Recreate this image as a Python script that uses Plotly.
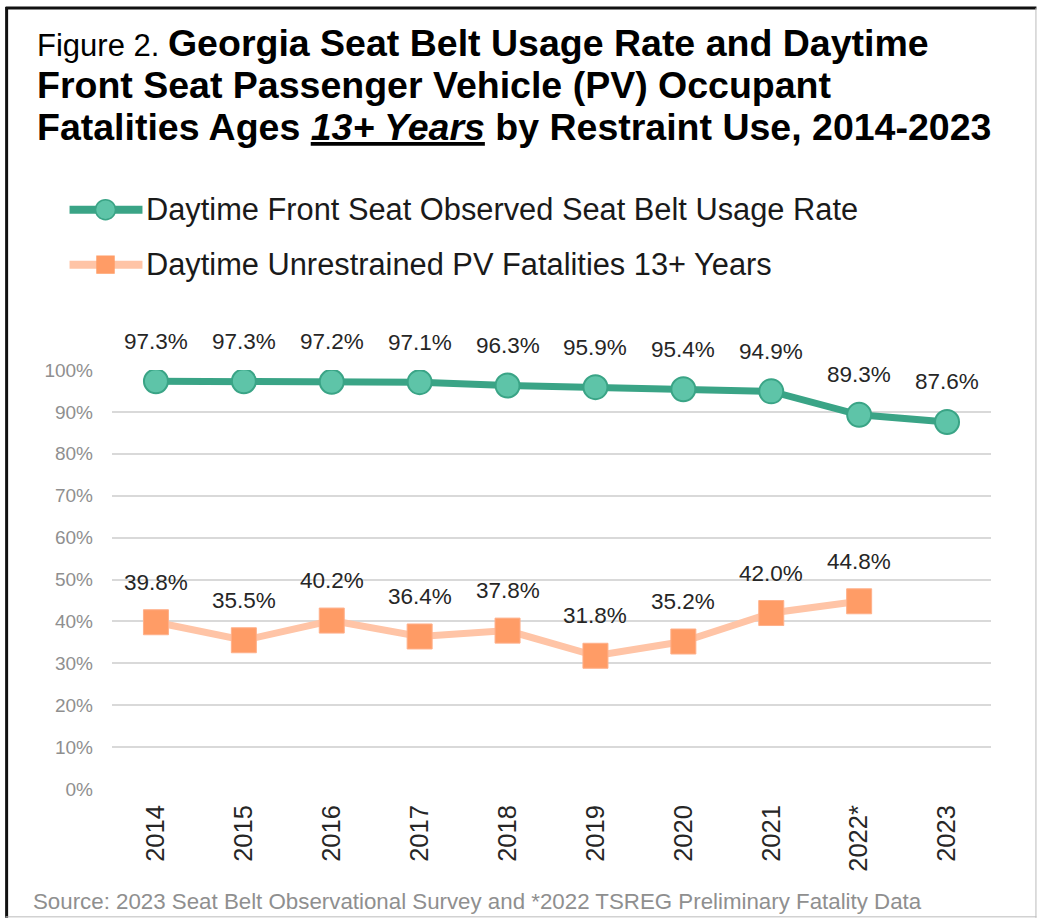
import plotly.graph_objects as go

years = ["2014", "2015", "2016", "2017", "2018", "2019", "2020", "2021", "2022*", "2023"]
usage_rate = [97.3, 97.3, 97.2, 97.1, 96.3, 95.9, 95.4, 94.9, 89.3, 87.6]
unrestrained = [39.8, 35.5, 40.2, 36.4, 37.8, 31.8, 35.2, 42.0, 44.8, None]
y_ticks = [0, 10, 20, 30, 40, 50, 60, 70, 80, 90, 100]
name_usage = "Daytime Front Seat Observed Seat Belt Usage Rate"
name_unres = "Daytime Unrestrained PV Fatalities 13+ Years"

GREEN_LINE = "#3AA486"
GREEN_FILL = "#5EC4A8"
ORANGE_LINE = "#FFC4A6"
ORANGE_FILL = "#FF9C66"
FONT = "Liberation Sans, Arial, sans-serif"

W, H = 1038, 919
L, R, T, B = 111.5, 991.5, 369.5, 789

def px(x):
    return (x - L) / (R - L)

def py(y):
    return (B - y) / (B - T)

fig = go.Figure()
fig.add_trace(go.Scatter(
    x=years, y=usage_rate, name=name_usage, mode="lines+markers",
    line=dict(color=GREEN_LINE, width=7),
    marker=dict(symbol="circle", size=24, color=GREEN_FILL, line=dict(color=GREEN_LINE, width=2)),
    showlegend=False,
))
fig.add_trace(go.Scatter(
    x=years, y=unrestrained, name=name_unres, mode="lines+markers",
    line=dict(color=ORANGE_LINE, width=7),
    marker=dict(symbol="square", size=25, color=ORANGE_FILL, line=dict(color="#FFB08A", width=1)),
    showlegend=False,
))

# data labels
for series in (usage_rate, unrestrained):
    for i, v in enumerate(series):
        if v is None:
            continue
        fig.add_annotation(x=i, y=v, xref="x", yref="y", text=f"{v:.1f}%", showarrow=False, yshift=40,
                           font=dict(family=FONT, size=22.5, color="#262626"))

# title (three lines)
title_lines = [
    "<span style='font-size:31px'>Figure 2. </span><b>Georgia Seat Belt Usage Rate and Daytime</b>",
    "<b>Front Seat Passenger Vehicle (PV) Occupant</b>",
    "<b>Fatalities Ages <u><i>13+ Years</i></u> by Restraint Use, 2014-2023</b>",
]
for line, yc in zip(title_lines, [42, 84, 126]):
    fig.add_annotation(xref="paper", yref="paper", x=px(34), y=py(yc), xanchor="left", yanchor="middle",
                       text=line, showarrow=False, font=dict(family=FONT, size=37.5, color="#000000"))

# legend (drawn manually to match the long symbol samples)
legend_items = [(name_usage, GREEN_LINE, GREEN_FILL, "circle", 209),
                (name_unres, ORANGE_LINE, ORANGE_FILL, "rect", 264)]
for name, lc, fc, shp, yc in legend_items:
    fig.add_shape(type="line", xref="paper", yref="paper", x0=px(69), x1=px(142), y0=py(yc), y1=py(yc),
                  line=dict(color=lc, width=8))
    half = 10 if shp == "circle" else 8.5
    fig.add_shape(type=shp, xref="paper", yref="paper", x0=px(105 - half), x1=px(105 + half),
                  y0=py(yc - half), y1=py(yc + half), fillcolor=fc,
                  line=dict(color=lc if shp == "circle" else fc, width=1.5))
    fig.add_annotation(xref="paper", yref="paper", x=px(144), y=py(yc), xanchor="left", yanchor="middle",
                       text=name, showarrow=False, font=dict(family=FONT, size=30.8, color="#1a1a1a"))

fig.update_layout(
    width=W, height=H,
    margin=dict(l=L, r=W - R, t=T, b=H - B),
    paper_bgcolor="white", plot_bgcolor="white",
    font=dict(family=FONT, color="#262626"),
    showlegend=False,
    xaxis=dict(type="category", tickangle=-90, showgrid=False, showline=False, ticks="",
               tickfont=dict(family=FONT, size=25.5, color="#262626"), range=[-0.5, 9.5],
               ticklabelstandoff=10),
    yaxis=dict(range=[0, 100], tickvals=y_ticks, ticktext=[f"{t}%" for t in y_ticks],
               showgrid=True, gridcolor="#D9D9D9", gridwidth=2, zeroline=False,
               tickfont=dict(family=FONT, size=19, color="#8F8F8F"), ticks="", ticklabelstandoff=18),
)

# frame around the figure
fig.add_shape(type="line", xref="paper", yref="paper", x0=px(6), x1=px(6), y0=py(6), y1=py(918),
              line=dict(color="#111111", width=3))
fig.add_shape(type="line", xref="paper", yref="paper", x0=px(5), x1=px(1037), y0=py(7), y1=py(7),
              line=dict(color="#111111", width=3))
fig.add_shape(type="line", xref="paper", yref="paper", x0=px(1036.5), x1=px(1036.5), y0=py(7), y1=py(918),
              line=dict(color="#BBBBBB", width=1))
fig.add_shape(type="line", xref="paper", yref="paper", x0=px(5), x1=px(1037), y0=py(917), y1=py(917),
              line=dict(color="#BBBBBB", width=1))

fig.add_annotation(xref="paper", yref="paper", x=px(30), y=py(902), xanchor="left", yanchor="middle",
                   text="Source: 2023 Seat Belt Observational Survey and *2022 TSREG Preliminary Fatality Data",
                   showarrow=False, font=dict(family=FONT, size=22.3, color="#8F8F8F"))

fig.write_html("out.html", config={"displayModeBar": False},
               post_script="document.body.style.margin='0px';document.body.style.padding='0px';")
